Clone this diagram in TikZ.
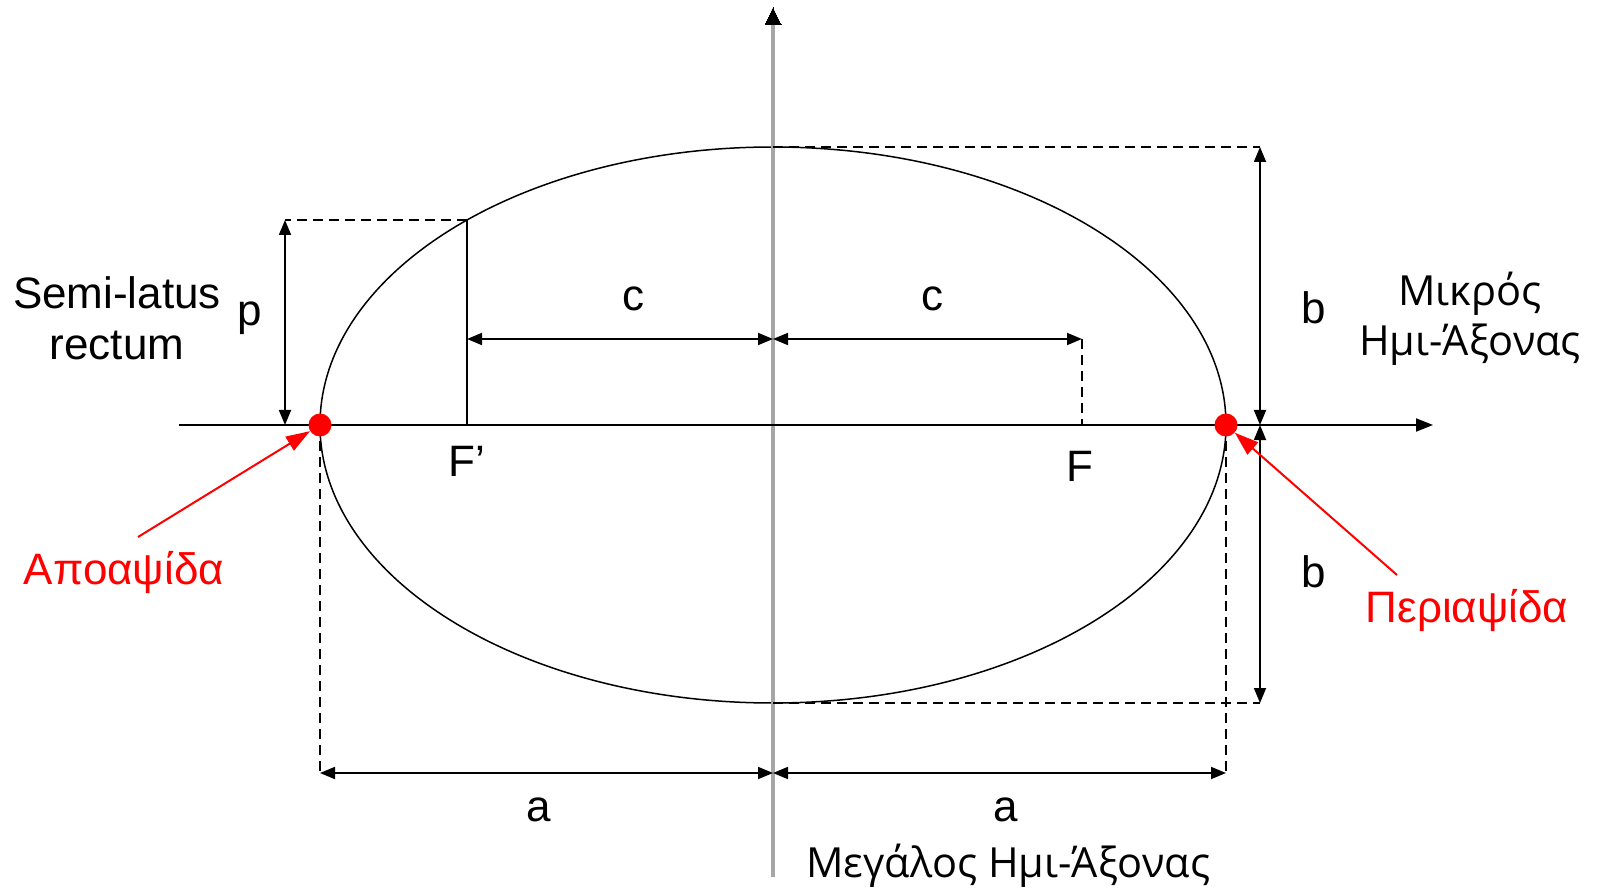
\documentclass[tikz,border=0pt]{standalone}
\usepackage{fontspec}
\setmainfont{Liberation Sans}
\newfontfamily\grk{Open Sans}
\usetikzlibrary{arrows.meta}
\begin{document}
\begin{tikzpicture}[x=1pt,y=-1pt,
  dim/.style={line width=1.8pt,{Triangle[length=15pt,width=12pt]}-{Triangle[length=15pt,width=12pt]}},
  guide/.style={line width=1.4pt,dash pattern=on 10pt off 6pt},
  lbl/.style={font=\fontsize{44}{51}\selectfont,inner sep=0pt},
  glbl/.style={font=\grk\fontsize{41.5}{50}\selectfont,inner sep=0pt,align=center},
  rlbl/.style={font=\fontsize{44}{51}\selectfont,text=red,inner sep=0pt},
  redarr/.style={red,line width=2pt,-{Triangle[length=24pt,width=16pt]}},
  apse/.style={circle,fill=red,minimum size=23pt,inner sep=0pt}]
\useasboundingbox (0,0) rectangle (1601,890);
% coordinates
\coordinate (O) at (773,425);
\coordinate (L) at (320,425);
\coordinate (R) at (1226,425);
\coordinate (T) at (773,147);
\coordinate (B) at (773,703);
\coordinate (Fp) at (467,425);
\coordinate (F) at (1082,425);
\coordinate (LR) at (467,220);
% ellipse
\draw[line width=1.5pt] (O) ellipse [x radius=453, y radius=278];
% axes
\draw[gray!70,line width=4pt] (773,877) -- (773,22);
\draw[line width=0pt,fill=black] (773,8) -- (765,25) -- (781,25) -- cycle;
\draw[line width=2pt,-{Triangle[length=17pt,width=13pt]}] (179,425) -- (1433,425);
% semi-latus rectum
\draw[line width=2pt] (Fp) -- (LR);
\coordinate (P1) at (285,220);
\coordinate (P0) at (285,425);
\draw[guide] (LR) -- (P1);
\draw[dim] (P1) -- (P0);
% c arrows
\coordinate (C1) at (467,339);
\coordinate (C2) at (773,339);
\coordinate (C3) at (1082,339);
\draw[dim] (C1) -- (C2);
\draw[dim] (C2) -- (C3);
\draw[guide] (C3) -- (F);
% b arrows
\coordinate (BT) at (1260,147);
\coordinate (BM) at (1260,425);
\coordinate (BB) at (1260,703);
\draw[guide] (T) -- (BT);
\draw[guide] (B) -- (BB);
\draw[dim] (BT) -- (BM);
\draw[dim] (BM) -- (BB);
% a arrows
\coordinate (A1) at (320,773);
\coordinate (A2) at (773,773);
\coordinate (A3) at (1226,773);
\draw[guide] (L) -- (A1);
\draw[guide] (R) -- (A3);
\draw[dim] (A1) -- (A2);
\draw[dim] (A2) -- (A3);
% apses
\node[apse] (apo) at (L) {};
\node[apse] (peri) at (R) {};
\coordinate (apoT) at (138,537);
\coordinate (periT) at (1397,575);
\draw[redarr] (apoT) -- (apo);
\draw[redarr] (periT) -- (peri);
% labels
\node[lbl,align=center] (slr) at (117,318) {Semi-latus\\rectum};
\node[lbl] (p) at (250,318) {p};
\node[lbl] (c1) at (633,299) {c};
\node[lbl] (c2) at (932,299) {c};
\node[lbl] (fpl) at (467,461) {F’};
\node[lbl] (fl) at (1080,466) {F};
\node[lbl] (b1) at (1314,308) {b};
\node[lbl] (b2) at (1314,572) {b};
\node[lbl] (a1) at (539,810) {a};
\node[lbl] (a2) at (1006,810) {a};
\node[glbl] (minor) at (1470,319) {Μικρός\\Ημι-Άξονας};
\node[glbl] (major) at (1008,866) {Μεγάλος Ημι-Άξονας};
\node[rlbl] (apol) at (124,572) {Αποαψίδα};
\node[rlbl] (peril) at (1467,610) {Περιαψίδα};
\end{tikzpicture}
\end{document}
